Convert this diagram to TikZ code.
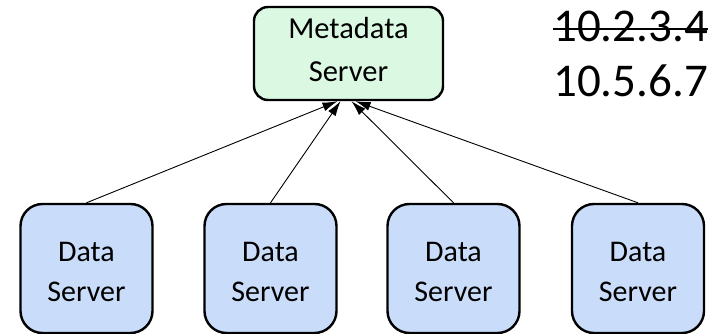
\documentclass[tikz,border=0pt]{standalone}
\usepackage{fontspec}
\setmainfont{Carlito}
\usetikzlibrary{arrows.meta}
\definecolor{metafill}{HTML}{DBF9E2}
\definecolor{datafill}{HTML}{C9DCFA}
\tikzset{
  metabox/.style={draw=black, line width=2.4pt, fill=metafill, rounded corners=14pt,
    minimum width=189pt, minimum height=93pt, align=center, inner sep=0pt,
    font=\fontsize{30.5}{43}\selectfont},
  databox/.style={draw=black, line width=2.4pt, fill=datafill, rounded corners=22pt,
    minimum width=132pt, minimum height=129pt, align=center, inner sep=0pt,
    font=\fontsize{30}{40}\selectfont},
  link/.style={line width=0.9pt, -{Latex[length=15pt,width=9pt]}},
  iptext/.style={anchor=base west, inner sep=0pt, font=\fontsize{47}{48}\selectfont}
}
\newcommand{\lowpad}{\rule[-7.6pt]{0pt}{7.6pt}}
\newcommand{\toppad}{\rule{0pt}{27pt}}
\begin{document}
\begin{tikzpicture}[x=1pt,y=-1pt]
\useasboundingbox (0,0) rectangle (718,334);
\node[metabox] (meta) at (348.5,53.5) {Metadata\\Server\lowpad};
\node[databox] (d1) at (86.5,268.5) {\toppad Data\\Server};
\node[databox] (d2) at (270.5,268.5) {\toppad Data\\Server};
\node[databox] (d3) at (453.5,268.5) {\toppad Data\\Server};
\node[databox] (d4) at (638,268.5) {\toppad Data\\Server};
\node[iptext] (ip1) at (553,42) {10.2.3.4};
\node[iptext] (ip2) at (553,97) {10.5.6.7};
\draw[line width=1.6pt] ([yshift=13pt]ip1.base west) -- ([yshift=13pt]ip1.base east);
\draw[link] (d1.north) -- ([xshift=-11pt]meta.south);
\draw[link] (d2.north) -- ([xshift=-8pt]meta.south);
\draw[link] (d3.north) -- ([xshift=3pt]meta.south);
\draw[link] (d4.north) -- ([xshift=7pt]meta.south);
\end{tikzpicture}
\end{document}
